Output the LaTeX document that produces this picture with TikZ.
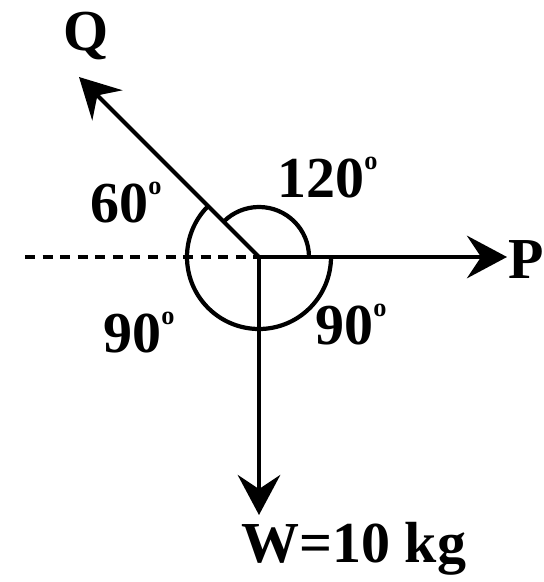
\documentclass[tikz,border=0pt]{standalone}
\usepackage{fontspec}
\setmainfont{Liberation Serif}
\usetikzlibrary{arrows.meta}

\newcommand{\degmark}{\raisebox{0.5em}{\fontsize{15}{15}\selectfont o}}

\tikzset{
  force/.style={line width=2.4pt, -{Stealth[length=0.8cm, width=0.85cm, inset=0.28cm]}},
  bigtext/.style={inner sep=0pt, font=\fontsize{33}{40}\selectfont\bfseries},
}

\begin{document}
\begin{tikzpicture}[x=0.02cm, y=0.02cm]

    \useasboundingbox (0,0) rectangle (544,582);

    % --- Point of concurrency and free ends ---
    \coordinate (O) at (259,325);
    \coordinate (left) at (25,325);
    \coordinate (Pend) at (507,325);
    \coordinate (Qend) at (79,505);
    \coordinate (Wend) at (259,67);

    % --- Labels of the forces ---
    \node[bigtext, anchor=west] (P) at (508,322) {P};
    \node[bigtext] (Q) at (86,546) {Q};
    \node[bigtext, anchor=base west] (W) at (241,19) {W=10 kg};

    % --- Dashed reference line ---
    \draw[line width=2.2pt, dash pattern=on 5.7pt off 4.3pt] (left) -- (O);

    % --- The forces ---
    \draw[force] (O) -- (Pend);
    \draw[force] (O) -- (Qend);
    \draw[force] (O) -- (Wend);

    % --- Angle arcs ---
    % 120 between Q and P
    \draw[line width=2.4pt] ([shift={(0:50)}]O) arc[start angle=0, end angle=135, radius=50];
    % 60, 90, 90 on the larger circle
    \draw[line width=2.4pt] ([shift={(135:72)}]O) arc[start angle=135, end angle=360, radius=72];

    % --- Angle values ---
    \node[bigtext, anchor=base west] (a60) at (90,359) {60\degmark};
    \node[bigtext, anchor=base west] (a120) at (277,384) {120\degmark};
    \node[bigtext, anchor=base west] (a90l) at (103,229) {90\degmark};
    \node[bigtext, anchor=base west] (a90r) at (315,237) {90\degmark};

\end{tikzpicture}
\end{document}
